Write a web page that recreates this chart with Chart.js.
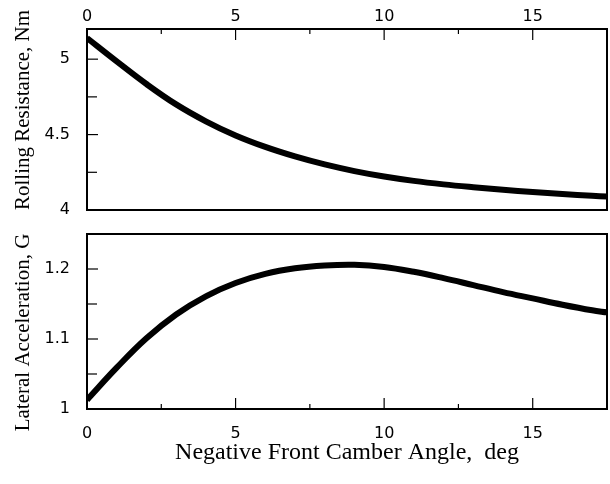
<!DOCTYPE html>
<html>
<head>
<meta charset="utf-8">
<script src="https://cdn.jsdelivr.net/npm/chart.js@4/dist/chart.umd.min.js"></script>
<style>
  html, body { margin: 0; padding: 0; background: #fff; }
  #wrap { position: relative; width: 610px; height: 484px; }
  #topChart { position: absolute; left: 0; top: 0; }
  #bottomChart { position: absolute; left: 0; top: 220px; }
</style>
</head>
<body>
<div id="wrap">
  <canvas id="topChart" width="610" height="220"></canvas>
  <canvas id="bottomChart" width="610" height="264"></canvas>
</div>
<script>
// --- data ---
const camber = [0, 1, 2, 3, 4, 5, 6, 7, 8, 9, 10, 11, 12, 13, 14, 15, 16, 17, 17.5];
const rollingResistance = [5.14, 4.985, 4.835, 4.7, 4.588, 4.494, 4.418, 4.355, 4.302, 4.258,
  4.222, 4.193, 4.17, 4.151, 4.134, 4.119, 4.106, 4.094, 4.089];
const lateralAccel = [1.013, 1.059, 1.101, 1.135, 1.161, 1.18, 1.193, 1.201, 1.205, 1.206,
  1.203, 1.196, 1.187, 1.177, 1.167, 1.158, 1.149, 1.141, 1.138];

const xTicks = [0, 5, 10, 15];
const xMinor = [2.5, 7.5, 12.5];
const rrTicks = [4, 4.5, 5];
const rrMinor = [4.25, 4.75];
const laTicks = [1, 1.1, 1.2];
const laMinor = [1.05, 1.15];

const tickFont = { family: "DejaVu Sans", size: 16 };

// frame + inward tick marks, drawn from the chart's own scales
const framePlugin = {
  id: "frame",
  afterDatasetsDraw(chart, args, opts) {
    const { ctx, chartArea: a, scales } = chart;
    ctx.save();
    ctx.strokeStyle = "#000";
    ctx.lineWidth = 1.2;
    const xs = scales.x, ys = scales.y;
    const edgeY = opts.xSide === "top" ? a.top : a.bottom;
    const dir = opts.xSide === "top" ? 1 : -1;
    const xMark = (v, len) => {
      const px = xs.getPixelForValue(v);
      ctx.beginPath();
      ctx.moveTo(px, edgeY);
      ctx.lineTo(px, edgeY + dir * len);
      ctx.stroke();
    };
    const yMark = (v, len) => {
      const py = ys.getPixelForValue(v);
      ctx.beginPath();
      ctx.moveTo(a.left, py);
      ctx.lineTo(a.left + len, py);
      ctx.stroke();
    };
    opts.xMajor.forEach((v) => xMark(v, 11));
    opts.xMinor.forEach((v) => xMark(v, 5));
    opts.yMajor.forEach((v) => yMark(v, 11));
    opts.yMinor.forEach((v) => yMark(v, 10));
    ctx.lineWidth = 2;
    ctx.strokeRect(a.left, a.top, a.right - a.left, a.bottom - a.top);
    ctx.restore();
  },
};

// vertical y title, nudged off the plot centre like the original
const sideTitlePlugin = {
  id: "sideTitle",
  afterDraw(chart, args, opts) {
    const { ctx, chartArea: a } = chart;
    ctx.save();
    ctx.font = "21px 'Liberation Serif'";
    ctx.fillStyle = "#000";
    ctx.textAlign = "center";
    ctx.textBaseline = "middle";
    ctx.translate(opts.x, (a.top + a.bottom) / 2 + opts.shift);
    ctx.rotate(-Math.PI / 2);
    ctx.fillText(opts.text, 0, 0);
    ctx.restore();
  },
};

// keep Chart.js from adding label overhang padding around the plot
function noPad(s) {
  s.paddingTop = 0;
  s.paddingBottom = 0;
  s.paddingLeft = 0;
  s.paddingRight = 0;
}

function makePanel(canvasId, yValues, yMin, yMax, yTicks, yMinor, yTitle, titleShift, isTop) {
  const ctx = document.getElementById(canvasId).getContext("2d");
  const xScale = {
    type: "linear",
    position: isTop ? "top" : "bottom",
    min: 0,
    max: 17.5,
    afterBuildTicks: (s) => { s.ticks = xTicks.map((v) => ({ value: v })); },
    afterFit: (s) => { s.height = isTop ? 29 : 75; noPad(s); },
    grid: { display: false, drawTicks: false },
    border: { display: false },
    ticks: { font: tickFont, color: "#000", padding: isTop ? 3 : 15, maxRotation: 0 },
    title: {
      display: !isTop,
      text: "Negative Front Camber Angle,  deg",
      font: { family: "Liberation Serif", size: 24 },
      color: "#000",
      padding: { top: 0, bottom: 17 },
    },
  };
  return new Chart(ctx, {
    type: "line",
    data: {
      datasets: [
        {
          data: camber.map((x, i) => ({ x: x, y: yValues[i] })),
          borderColor: "#000",
          borderWidth: 6,
          pointRadius: 0,
          tension: 0.4,
          fill: false,
        },
      ],
    },
    options: {
      responsive: false,
      animation: false,
      events: [],
      layout: { padding: { left: 0, right: 3, top: isTop ? 0 : 14, bottom: isTop ? 10 : 0 } },
      plugins: {
        legend: { display: false },
        tooltip: { enabled: false },
        frame: {
          xSide: isTop ? "top" : "bottom",
          xMajor: xTicks,
          xMinor: xMinor,
          yMajor: yTicks,
          yMinor: yMinor,
        },
        sideTitle: { text: yTitle, x: 23.5, shift: titleShift },
      },
      scales: {
        x: xScale,
        y: {
          type: "linear",
          min: yMin,
          max: yMax,
          afterBuildTicks: (s) => { s.ticks = yTicks.map((v) => ({ value: v })); },
          afterFit: (s) => { s.width = 87; noPad(s); },
          grid: { display: false, drawTicks: false },
          border: { display: false },
          ticks: { font: tickFont, color: "#000", padding: 17, callback: (v) => String(v) },
        },
      },
    },
    plugins: [framePlugin, sideTitlePlugin],
  });
}

makePanel("topChart", rollingResistance, 4, 5.2, rrTicks, rrMinor, "Rolling Resistance, Nm", -9.5, true);
makePanel("bottomChart", lateralAccel, 1, 1.25, laTicks, laMinor, "Lateral Acceleration, G", 11, false);
</script>
</body>
</html>
